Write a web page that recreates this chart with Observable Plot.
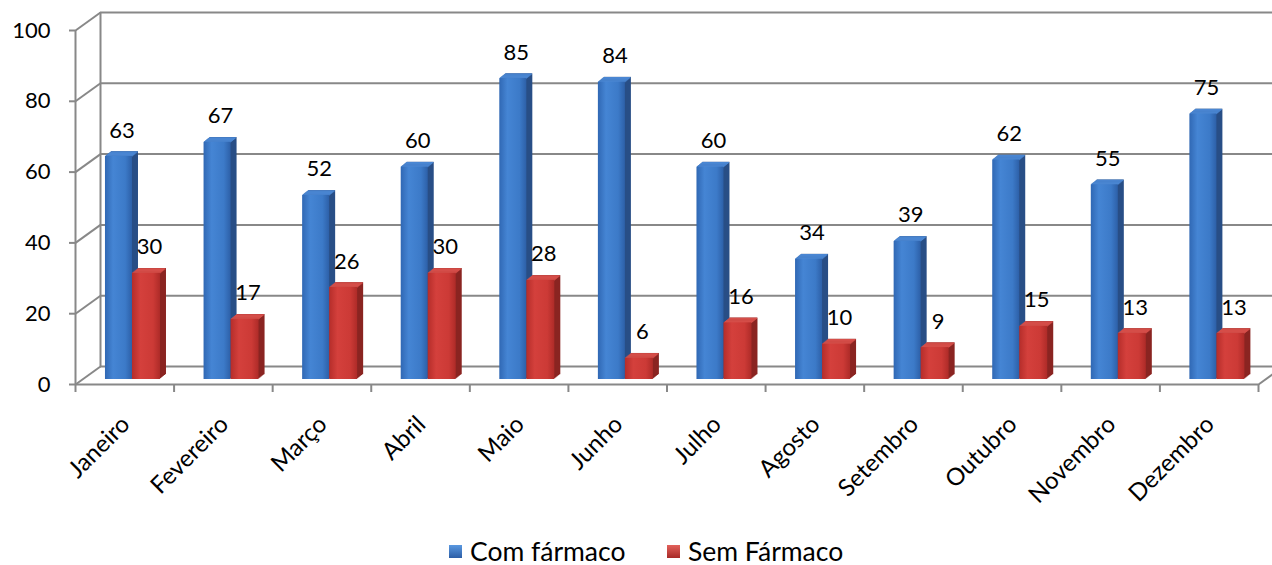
<!DOCTYPE html>
<html><head><meta charset="utf-8">
<script src="https://cdn.jsdelivr.net/npm/d3@7"></script>
<script src="https://cdn.jsdelivr.net/npm/@observablehq/plot@0.6"></script>
<style>
body{margin:0;background:#fff;overflow:hidden;font-family:Lato,"Noto Sans",sans-serif;}
#legend{position:relative;height:37px;font-size:26.5px;line-height:28px;color:#000;}
.item{position:absolute;top:9px;display:flex;align-items:center;}
.sw{width:13px;height:13px;margin-right:8px;box-sizing:border-box;}
</style>
</head><body>
<div id="chart"></div>
<div id="legend"></div>
<script>
const months = ["Janeiro","Fevereiro","Março","Abril","Maio","Junho","Julho","Agosto","Setembro","Outubro","Novembro","Dezembro"];
const seriesNames = ["Com fármaco","Sem Fármaco"];
const comFarmaco = [63,67,52,60,85,84,60,34,39,62,55,75];
const semFarmaco = [30,17,26,30,28,6,16,10,9,15,13,13];
const yTicks = [0,20,40,60,80,100];

const W = 1272, H = 528, ML = 75, MR = 14, MT = 30, MB = H - 384;
const kx = (W - ML - MR) / 12, ky = (H - MT - MB) / 100;
const wallDx = 25 / kx, wallDy = 18 / ky;   // back wall depth in data units
const slots = [[0.304, 0.578], [0.578, 0.862]];
const fronts = ["url(#gBlue)", "url(#gRed)"];
const sides = ["#284e86", "#8a2421"];
const tops = ["#4a86d2", "#d54e49"];

const rows = [];
[comFarmaco, semFarmaco].forEach((vals, s) => vals.forEach((v, i) => rows.push({
  i, s, month: months[i], series: seriesNames[s], value: v,
  x1: i + slots[s][0], x2: i + slots[s][1]
})));

const BASE = -5; // bar base pixel shift
const ext = [1,2,3,4,5,6];
const marks = [];
// back wall
marks.push(Plot.ruleY(yTicks, {y: d => d + wallDy, x1: wallDx, x2: 12 + wallDx + 0.3, stroke: "#888", strokeWidth: 2}));
marks.push(Plot.ruleX([wallDx], {y1: wallDy, y2: 100 + wallDy, stroke: "#888", strokeWidth: 2}));
marks.push(Plot.link(yTicks, {x1: 0, y1: d => d, x2: wallDx, y2: d => d + wallDy, stroke: "#888", strokeWidth: 2}));
marks.push(Plot.link([0], {x1: 12, y1: 0, x2: 12 + wallDx, y2: wallDy, stroke: "#888", strokeWidth: 2}));
marks.push(Plot.ruleX([0], {y1: 0, y2: 100, stroke: "#888", strokeWidth: 2}));
marks.push(Plot.ruleY([0], {x1: 0, x2: 12, stroke: "#888", strokeWidth: 2}));
// bar extrusion (side)
for (const k of ext) {
  marks.push(Plot.rect(rows, {x1: "x1", x2: "x2", y1: 0, y2: "value", fill: d => sides[d.s], dx: k, dy: BASE - k * 0.8}));
}
// top face
for (const k of [0,1,2,3,4,5]) {
  marks.push(Plot.ruleY(rows, {x1: "x1", x2: "x2", y: "value", stroke: d => tops[d.s], strokeWidth: 1.3, dx: k + 0.5, dy: BASE - k * 0.8 - 0.5}));
}
// front face
marks.push(Plot.rect(rows, {x1: "x1", x2: "x2", y1: 0, y2: "value", fill: d => fronts[d.s], dy: BASE}));
// value labels
marks.push(Plot.text(rows, {x: d => (d.x1 + d.x2) / 2, y: "value", text: d => String(d.value), dx: 3, dy: BASE - 26, fontSize: 22, fill: "#000"}));
// month labels
marks.push(Plot.text(months, {x: (d, i) => i + 0.5, y: 0, text: d => d, rotate: -45, textAnchor: "end", dx: 1, dy: 36, fontSize: 24, fill: "#000"}));
// axes
marks.push(Plot.axisY({ticks: yTicks, tickSize: 6, tickPadding: 19, stroke: "#888", strokeWidth: 2, fill: "#000", fontSize: 22, label: null}));
marks.push(Plot.axisX({ticks: d3.range(13), tickSize: 8, tickFormat: () => "", stroke: "#888", strokeWidth: 2, label: null}));

const chart = Plot.plot({
  width: W, height: H,
  marginLeft: ML, marginRight: MR, marginTop: MT, marginBottom: MB,
  x: {type: "linear", domain: [0, 12]},
  y: {domain: [0, 100]},
  color: {type: "identity"},
  style: {fontFamily: "Lato, 'Noto Sans', sans-serif", fontSize: "22px", background: "white", overflow: "hidden", color: "#000"},
  marks
});
d3.select(chart).insert("defs", ":first-child").html(`
<linearGradient id="gBlue" x1="0" x2="1" y1="0" y2="0">
 <stop offset="0" stop-color="#3068b4"/><stop offset="0.3" stop-color="#4585d4"/><stop offset="0.75" stop-color="#3c7ac8"/><stop offset="1" stop-color="#2d60a8"/>
</linearGradient>
<linearGradient id="gRed" x1="0" x2="1" y1="0" y2="0">
 <stop offset="0" stop-color="#b52d2a"/><stop offset="0.3" stop-color="#d4403c"/><stop offset="0.75" stop-color="#cc3a36"/><stop offset="1" stop-color="#ae2b28"/>
</linearGradient>`);
document.getElementById("chart").appendChild(chart);

const lg = d3.select("#legend");
const swFill = ["linear-gradient(#5a98e0,#2c5ea6)", "linear-gradient(#e2615b,#a82a27)"];
const legendLeft = [449, 667];
seriesNames.forEach((n, s) => {
  const it = lg.append("div").attr("class", "item").style("left", legendLeft[s] + "px");
  it.append("div").attr("class", "sw").style("background", swFill[s]);
  it.append("span").text(n);
});
</script>
</body></html>
